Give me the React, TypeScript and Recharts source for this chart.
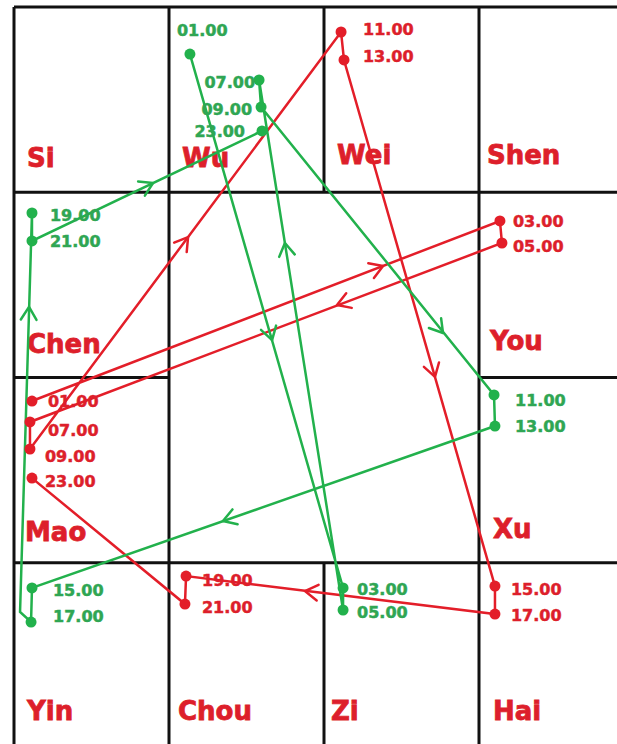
import React from 'react';
import { ScatterChart, Scatter, XAxis, YAxis, ReferenceLine } from 'recharts';

// ---- data (grid units: column 0..4, row 0..4) ----
const cellNames = ['Si', 'Wu', 'Wei', 'Shen', 'Chen', 'You', 'Mao', 'Xu', 'Yin', 'Chou', 'Zi', 'Hai'];
const cellCols = [0, 1, 2, 3, 0, 3, 0, 3, 0, 1, 2, 3];
const cellRows = [0, 0, 0, 0, 1, 1, 2, 2, 3, 3, 3, 3];

const hours = ['01.00', '03.00', '05.00', '07.00', '09.00', '11.00', '13.00', '15.00', '17.00', '19.00', '21.00', '23.00'];

const greenX = [1.135, 2.123, 2.123, 1.581, 1.594, 3.097, 3.103, 0.116, 0.11, 0.116, 0.116, 1.6];
const greenY = [0.254, 3.136, 3.255, 0.394, 0.54, 2.094, 2.262, 3.136, 3.32, 1.112, 1.263, 0.669];
const greenBend = { x: 0.039, y: 3.266 }; // corner of the hand-drawn line between 17.00 and 19.00

const redX = [0.116, 3.135, 3.148, 0.103, 0.103, 2.11, 2.129, 3.103, 3.103, 1.11, 1.103, 0.116];
const redY = [2.127, 1.155, 1.274, 2.24, 2.386, 0.135, 0.286, 3.126, 3.277, 3.072, 3.223, 2.543];

const greenArrowX = [0.897, 1.665, 1.748, 2.768, 1.348, 0.097];
const greenArrowY = [0.95, 1.798, 1.274, 1.76, 2.775, 1.619];
const greenArrowSeg = [[11, 12], [0, 1], [2, 3], [4, 5], [6, 7], [9, 10]];

const redArrowX = [2.381, 2.084, 1.123, 2.716, 1.877];
const redArrowY = [1.398, 1.609, 1.242, 1.997, 3.153];
const redArrowSeg = [[0, 1], [2, 3], [4, 5], [6, 7], [8, 9]];

// ---- layout / style ----
const W = 640;
const H = 760;
const M = { top: 7, right: 6, bottom: 12, left: 14 };
const PX = (W - M.left - M.right) / 4;
const PY = (H - M.top - M.bottom) / 4;
const GREEN = '#22b14c';
const GREEN_TEXT = '#2fa653';
const RED = '#e31e29';
const RED_TEXT = '#dd1f2b';
const FONT = '"DejaVu Sans", Verdana, sans-serif';

const greenLabelDx = [-13, 14, 14, -4, -9, 21, 20, 21, 22, 18, 18, -17];
const greenLabelDy = [-18, 7, 8, 8, 8, 11, 6, 8, 0, 8, 6, 6];
const greenLabelEnd = [false, false, false, true, true, false, false, false, false, false, false, true];
const redLabelDx = [16, 13, 11, 18, 15, 22, 19, 16, 16, 16, 17, 13];
const redLabelDy = [6, 6, 9, 14, 13, 3, 2, 9, 7, 10, 9, 9];
const cellDx = [13, 13, 13, 8, 13, 11, 11, 14, 13, 9, 7, 14];
const cellDy = [160, 160, 157, 157, 161, 158, 163, 160, 157, 157, 157, 157];

const greenPoints = hours.map((h, i) => ({ label: h, x: greenX[i], y: greenY[i], i }));
const redPoints = hours.map((h, i) => ({ label: h, x: redX[i], y: redY[i], i }));
const greenPath = [...greenPoints.slice(0, 9), greenBend, ...greenPoints.slice(9)];
const redPath = redPoints;

const greenArrows = greenArrowX.map((x, i) => ({ x, y: greenArrowY[i], from: greenArrowSeg[i][0], to: greenArrowSeg[i][1] }));
const redArrows = redArrowX.map((x, i) => ({ x, y: redArrowY[i], from: redArrowSeg[i][0], to: redArrowSeg[i][1] }));

const cells = cellNames.map((n, i) => ({ name: n, x: cellCols[i], y: cellRows[i], i }));

const gridSegments: { x1: number; y1: number; x2: number; y2: number }[] = [
  { x1: 0, y1: 0, x2: 4, y2: 0 },
  { x1: 0, y1: 1, x2: 4, y2: 1 },
  { x1: 0, y1: 2, x2: 1, y2: 2 },
  { x1: 3, y1: 2, x2: 4, y2: 2 },
  { x1: 0, y1: 3, x2: 4, y2: 3 },
  { x1: 0, y1: 0, x2: 0, y2: 4 },
  { x1: 1, y1: 0, x2: 1, y2: 4 },
  { x1: 2, y1: 0, x2: 2, y2: 1 },
  { x1: 2, y1: 3, x2: 2, y2: 4 },
  { x1: 3, y1: 0, x2: 3, y2: 4 },
];

const makeArrow = (color: string, path: { x: number; y: number }[]) => (props: any) => {
  const { cx, cy, payload } = props;
  const a = path[payload.from];
  const b = path[payload.to];
  const dx = (b.x - a.x) * PX;
  const dy = (b.y - a.y) * PY;
  const len = Math.hypot(dx, dy) || 1;
  const ux = dx / len;
  const uy = dy / len;
  const L = 15;
  const ang = 0.55;
  const w = (s: number) => {
    const c = Math.cos(s * ang);
    const sn = Math.sin(s * ang);
    const rx = ux * c - uy * sn;
    const ry = ux * sn + uy * c;
    return `${cx - L * rx},${cy - L * ry}`;
  };
  return (
    <polyline
      points={`${w(1)} ${cx},${cy} ${w(-1)}`}
      fill="none"
      stroke={color}
      strokeWidth={2.5}
      strokeLinecap="round"
      strokeLinejoin="round"
    />
  );
};

const makeDot = (color: string, textColor: string, dxs: number[], dys: number[], ends?: boolean[]) => (props: any) => {
  const { cx, cy, payload } = props;
  const i = payload.i;
  return (
    <g>
      <circle cx={cx} cy={cy} r={5.5} fill={color} />
      <text
        x={cx + dxs[i]}
        y={cy + dys[i]}
        fill={textColor}
        stroke={textColor}
        strokeWidth={0.5}
        fontFamily={FONT}
        fontWeight="bold"
        fontSize={16}
        textAnchor={ends && ends[i] ? 'end' : 'start'}
      >
        {payload.label}
      </text>
    </g>
  );
};

const cellShape = (props: any) => {
  const { cx, cy, payload } = props;
  return (
    <text
      x={cx + cellDx[payload.i]}
      y={cy + cellDy[payload.i]}
      fill={RED_TEXT}
      stroke={RED_TEXT}
      strokeWidth={0.8}
      fontFamily={FONT}
      fontWeight="bold"
      fontSize={26}
    >
      {payload.name}
    </text>
  );
};

const noShape = () => <g />;

export default function App() {
  return (
    <div style={{ position: 'absolute', left: 0, top: 0, width: 617, height: 744, overflow: 'hidden', background: '#fff' }}>
      <ScatterChart width={W} height={H} margin={M}>
        <XAxis type="number" dataKey="x" domain={[0, 4]} hide />
        <YAxis type="number" dataKey="y" domain={[0, 4]} reversed hide />
        {gridSegments.map((s, k) => (
          <ReferenceLine
            key={k}
            segment={[{ x: s.x1, y: s.y1 }, { x: s.x2, y: s.y2 }]}
            stroke="#111"
            strokeWidth={3}
            ifOverflow="visible"
          />
        ))}
        <Scatter data={cells} shape={cellShape} isAnimationActive={false} />
        <Scatter
          data={redPath}
          line={{ stroke: RED, strokeWidth: 2.5 }}
          lineType="joint"
          shape={noShape}
          fill={RED}
          isAnimationActive={false}
        />
        <Scatter
          data={greenPath}
          line={{ stroke: GREEN, strokeWidth: 2.5 }}
          lineType="joint"
          shape={noShape}
          fill={GREEN}
          isAnimationActive={false}
        />
        <Scatter data={redArrows} shape={makeArrow(RED, redPath)} isAnimationActive={false} />
        <Scatter data={greenArrows} shape={makeArrow(GREEN, greenPath)} isAnimationActive={false} />
        <Scatter data={redPoints} shape={makeDot(RED, RED_TEXT, redLabelDx, redLabelDy)} isAnimationActive={false} />
        <Scatter
          data={greenPoints}
          shape={makeDot(GREEN, GREEN_TEXT, greenLabelDx, greenLabelDy, greenLabelEnd)}
          isAnimationActive={false}
        />
      </ScatterChart>
    </div>
  );
}
